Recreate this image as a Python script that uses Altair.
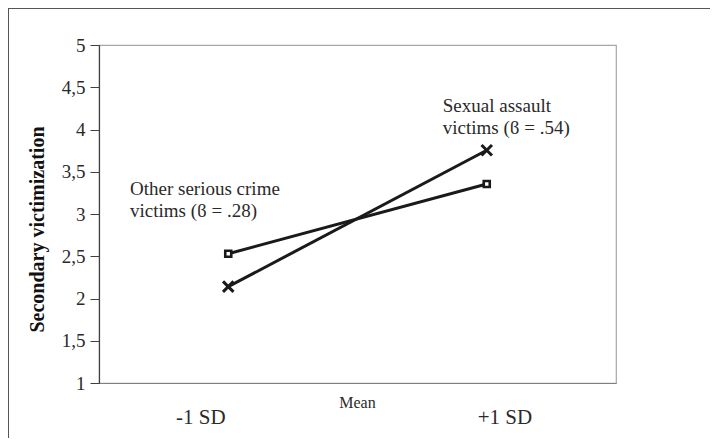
import altair as alt
import pandas as pd

# ---- data ----
x_levels = ["-1 SD", "+1 SD"]
x_pos = [0.25, 0.75]
other_vals = [2.53, 3.355]
sexual_vals = [2.14, 3.755]
y_ticks = [1, 1.5, 2, 2.5, 3, 3.5, 4, 4.5, 5]

axis_labels = ["-1 SD", "+1 SD"]
axis_label_x = [0.197, 0.785]
mean_label = ["Mean"]
mean_label_x = [0.5]

ann_text = ["Other serious crime\nvictims (\u03d0 = .28)", "Sexual assault\nvictims (\u03d0 = .54)"]
ann_x = [0.06, 0.665]
ann_y = [3.225, 4.21]

W, H = 517, 338
PAD = {"left": 91, "top": 37, "right": 94, "bottom": 55}
FONT = "'Liberation Serif', 'Times New Roman', 'DejaVu Serif', serif"

other_df = pd.DataFrame({"x": x_pos, "y": other_vals, "level": x_levels})
sex_df = pd.DataFrame({"x": x_pos, "y": sexual_vals, "level": x_levels})
lab_df = pd.DataFrame({"x": axis_label_x, "t": axis_labels})
mean_df = pd.DataFrame({"x": mean_label_x, "t": mean_label})
ann_df = pd.DataFrame({"x": ann_x, "y": ann_y, "t": ann_text})

xs = alt.Scale(domain=[0, 1], nice=False, zero=False)
ys = alt.Scale(domain=[1, 5], nice=False, zero=False)

X = alt.X("x:Q", scale=xs, axis=alt.Axis(labels=False, ticks=False, grid=False, title=None,
                                          domainColor="#7f7f7f", domainWidth=1.2))
Y = alt.Y("y:Q", scale=ys, axis=alt.Axis(
    values=y_ticks, grid=False, title="Secondary victimization",
    labelExpr="replace(toString(datum.value), '.', ',')",
    labelFont=FONT, labelFontSize=19, labelColor="#2a2a2a", labelPadding=5,
    tickSize=9, tickColor="#404040", domainColor="#404040", domainWidth=1.2,
    titleFont=FONT, titleFontSize=20, titleFontWeight="bold", titleColor="#111111",
    titleAngle=270, titleX=-62, titleY=184, titleAlign="center", titleBaseline="middle"))

line_color = "#1a1a1a"

other_line = alt.Chart(other_df).mark_line(color=line_color, strokeWidth=3).encode(x=X, y=Y)
sex_line = alt.Chart(sex_df).mark_line(color=line_color, strokeWidth=3).encode(x=X, y=Y)
other_pts = alt.Chart(other_df).mark_point(shape="square", size=36, filled=False, fill="white",
                                           fillOpacity=1, stroke=line_color, strokeWidth=2.6,
                                           opacity=1).encode(x=X, y=Y)
sex_pts = alt.Chart(sex_df).mark_point(shape="M-1,-1L1,1M1,-1L-1,1", size=110, filled=False,
                                       stroke=line_color, strokeWidth=3, opacity=1).encode(x=X, y=Y)

labels = alt.Chart(lab_df).mark_text(font=FONT, fontSize=21, color="#2a2a2a", align="center",
                                     baseline="alphabetic").encode(
    x=alt.X("x:Q", scale=xs), y=alt.value(379), text="t:N")
mean_txt = alt.Chart(mean_df).mark_text(font=FONT, fontSize=16, color="#2a2a2a", align="center",
                                        baseline="alphabetic").encode(
    x=alt.X("x:Q", scale=xs), y=alt.value(363), text="t:N")
ann = alt.Chart(ann_df).mark_text(font=FONT, fontSize=19, color="#2a2a2a", align="left",
                                  baseline="alphabetic", lineBreak="\n", lineHeight=22).encode(
    x=alt.X("x:Q", scale=xs), y=alt.Y("y:Q", scale=ys), text="t:N")

frame_left = alt.Chart(other_df).mark_rule(color="#555555", strokeWidth=1).encode(
    x=alt.value(-90.5), y=alt.value(-37), y2=alt.value(H + PAD["bottom"]))
frame_top = alt.Chart(other_df).mark_rule(color="#555555", strokeWidth=1).encode(
    x=alt.value(-91), x2=alt.value(W + PAD["right"]), y=alt.value(-36.5))

chart = alt.layer(
    other_line, sex_line, other_pts, sex_pts, labels, mean_txt, ann, frame_left, frame_top
).properties(
    width=W, height=H,
    autosize=alt.AutoSizeParams(type="none"),
    padding=PAD,
    background="white",
).configure_view(stroke="#a6a6a6", strokeWidth=1.2)

chart.save("out.html", embed_options={"renderer": "svg", "actions": False})
